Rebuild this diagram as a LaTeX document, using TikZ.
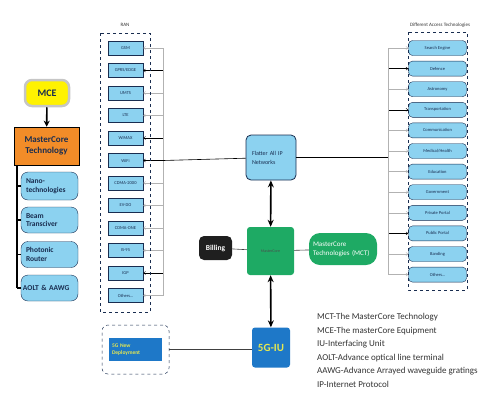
\documentclass[tikz,border=0pt]{standalone}
\usepackage{fontspec}
\setmainfont{Carlito}
\usetikzlibrary{arrows.meta,positioning}
\definecolor{skyb}{RGB}{140,210,240}
\definecolor{navy}{RGB}{25,45,80}
\definecolor{orng}{RGB}{242,140,40}
\definecolor{mgreen}{RGB}{30,170,100}
\definecolor{iublue}{RGB}{30,120,200}
\definecolor{iuyel}{RGB}{230,232,80}
\begin{document}
\begin{tikzpicture}[x=1pt,y=-1pt,
		ran/.style={draw=navy,fill=skyb,minimum width=35pt,minimum height=14pt,inner sep=0pt,font=\fontsize{4.5}{5}\selectfont,text=navy},
		acc/.style={draw=navy,fill=skyb,rounded corners=4pt,minimum width=58pt,minimum height=15pt,inner sep=0pt,font=\fontsize{4.5}{5}\selectfont,text=navy},
		tech/.style={draw=navy,fill=skyb,rounded corners=7pt,minimum width=57pt,text width=47pt,align=left,inner sep=3pt,font=\bfseries\fontsize{7.5}{8.5}\selectfont,text=navy},
		frame/.style={draw=navy,dashed,line width=0.5pt},
		link/.style={line width=0.4pt,-{Straight Barb[length=2pt,width=3pt]}},
		dbl/.style={line width=1.6pt,{Stealth[length=7pt,width=6pt]}-{Stealth[length=7pt,width=6pt]}},
		tiny/.style={font=\fontsize{5}{6}\selectfont,text=black!80}]
		\useasboundingbox (0,0) rectangle (490,400);
		\node[tiny] (ranlab) at (125,25) {RAN};
		\node[tiny] (acclab) at (440,25) {Different Access Technologies};
		\foreach \t/\c [count=\i] in {GSM/gray!60,GPRS{/}EDGE/black,UMTS/gray!60,LTE/gray!60,WiMAX/black,WiFi/black,CDMA-2000/gray!60,EV-DO/gray!60,CDMA-ONE/gray!60,IS-95/gray!60,IGP/black,Others\ldots/gray!60} {
			\coordinate (r\i) at (163,{48+22.5*(\i-1)});
			\node[ran] (R\i) at (125.5,{48+22.5*(\i-1)}) {\t};
			\draw[link,\c] (r\i) -- (R\i.east);
		}
		\draw[gray!60,line width=0.4pt] (r1) -- (r12);
		\draw[frame] (100,33) rectangle (150,312);
		\foreach \t/\c [count=\i] in {Search Engine/gray!60,Defence/black,Astronomy/gray!60,Transportation/black,Communication/gray!60,Medical{/}Health/gray!60,Education/gray!60,Government/gray!60,Private Portal/gray!60,Public Portal/black,Banding/gray!60,Others\ldots/gray!60} {
			\coordinate (a\i) at (388,{48+20.6*(\i-1)});
			\node[acc] (D\i) at (437.5,{48+20.6*(\i-1)}) {\t};
			\draw[link,\c] (a\i) -- (D\i.west);
		}
		\draw[gray!60,line width=0.4pt] (a1) -- (a12);
		\draw[frame] (408,32) rectangle (467,290);
		\node[draw=navy,line width=0.8pt,fill=skyb,rounded corners=5pt,minimum width=50pt,minimum height=45pt,text width=38pt,align=left,font=\fontsize{6}{9}\selectfont,text=navy] (flat) at (271,157.5) {Flatter All IP Networks};
		\coordinate (fr) at (388,157.5);
		\draw[line width=0.6pt] (r6) -- (flat);
		\draw[line width=0.6pt] (flat) -- (fr);
		\node[fill=mgreen,rounded corners=3pt,minimum width=47pt,minimum height=48pt,inner sep=0pt,font=\fontsize{4}{5}\selectfont,text=black!70] (mc) at (270.5,251) {MasterCore};
		\node[fill=black!88,rounded corners=5pt,minimum width=33pt,minimum height=24pt,inner sep=0pt,font=\bfseries\fontsize{7.5}{8}\selectfont,text=white] (bill) at (215.5,248) {Billing};
		\node[fill=mgreen,rounded corners=11pt,minimum width=68pt,minimum height=32pt,text width=60pt,align=left,font=\fontsize{7}{9}\selectfont,text=white] (mct) at (343,249) {MasterCore\\Technologies (MCT)};
		\draw[black!75,line width=0.6pt] (bill) -- (mc);
		\draw[black!75,line width=0.6pt] (mc) -- (mct);
		\node[fill=iublue,rounded corners=3pt,minimum width=38pt,minimum height=40pt,inner sep=0pt,font=\bfseries\fontsize{11}{12}\selectfont,text=iuyel] (iu) at (271,347.5) {5G-IU};
		\draw[dbl] (flat) -- (mc);
		\draw[dbl] (mc) -- (iu);
		\node[frame,rounded corners=6pt,minimum width=67pt,minimum height=49pt] (depbox) at (135.5,349.5) {};
		\node[fill=iublue,minimum width=53pt,minimum height=23pt,text width=47pt,align=left,inner sep=2pt,font=\bfseries\fontsize{5.5}{7}\selectfont,text=iuyel] (dep) at (135.5,349.5) {5G New\\Deployment};
		\draw[black!75,line width=0.6pt] (depbox.east) -- (depbox.east -| iu.west);
		\node[fill=yellow,draw=gray!45,line width=2.5pt,rounded corners=7pt,minimum width=44pt,minimum height=26pt,font=\bfseries\fontsize{10}{12}\selectfont,text=navy] (mce) at (47,93) {MCE};
		\node[fill=orng,draw=black,line width=0.6pt,minimum width=65pt,minimum height=38pt,align=center,font=\bfseries\fontsize{9}{10.5}\selectfont,text=navy] (core) at (46.5,146) {MasterCore\\Technology};
		\draw[line width=1.6pt,-{Stealth[length=6pt,width=6pt]}] (mce) -- (core);
		\node[tech,minimum height=28pt] (nano) at (49.5,186) {Nano-\\technologies};
		\node[tech,minimum height=26pt] (beam) at (49.5,220) {Beam\\Transciver};
		\node[tech,minimum height=26pt] (photo) at (49.5,254.5) {Photonic\\Router};
		\node[tech,minimum height=26pt,text width=53pt,inner sep=2pt] (aolt) at (49.5,288) {AOLT \& AAWG};
		\coordinate (t0) at (17,165);
		\draw[line width=1.5pt] (t0) -- (t0 |- aolt.west);
		\foreach \n in {nano,beam,photo,aolt} {
			\draw[line width=1.5pt] (t0 |- \n.west) -- (\n.west);
		}
		\node[anchor=north west,align=left,inner sep=0pt,font=\fontsize{9}{13.6}\selectfont,text=black!80] (leg) at (317,313) {MCT-The MasterCore Technology\\MCE-The masterCore Equipment\\IU-Interfacing Unit\\AOLT-Advance optical line terminal\\AAWG-Advance Arrayed waveguide gratings\\IP-Internet Protocol};
	\end{tikzpicture}
\end{document}
